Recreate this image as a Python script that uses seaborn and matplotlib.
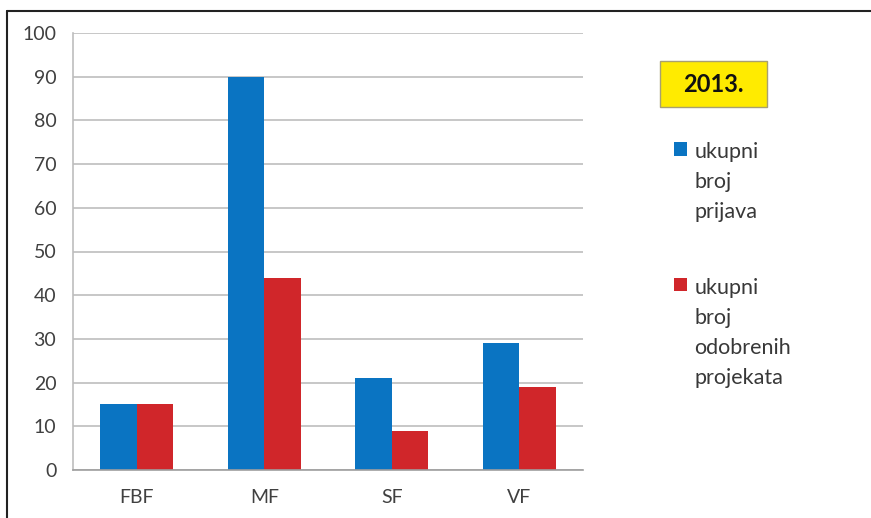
import numpy as np
import pandas as pd
import matplotlib
matplotlib.use("Agg")
import matplotlib.pyplot as plt
from matplotlib.lines import Line2D
from matplotlib.patches import Rectangle
import seaborn as sns

fakulteti = ["FBF", "MF", "SF", "VF"]
prijave = [15, 90, 21, 29]
odobreni = [15, 44, 9, 19]
serije = ["ukupni\nbroj\nprijava", "ukupni\nbroj\nodobrenih\nprojekata"]
boje = ["#0A74C2", "#D0262A"]
godina = "2013."

df = pd.DataFrame({
    "fakultet": fakulteti * 2,
    "vrijednost": prijave + odobreni,
    "serija": [serije[0]] * len(fakulteti) + [serije[1]] * len(fakulteti),
})

sns.set_style("white")
plt.rcParams["font.family"] = ["Lato", "DejaVu Sans"]

W, H = 871, 518
fig = plt.figure(figsize=(W / 100, H / 100), dpi=100)
ax = fig.add_axes([73 / W, 1 - 470 / H, (583 - 73) / W, (470 - 33) / H])

sns.barplot(data=df, x="fakultet", y="vrijednost", hue="serija",
            palette=boje, width=0.57, saturation=1, ax=ax, edgecolor="none")

ax.set_ylim(0, 100)
ax.set_yticks(np.arange(0, 101, 10))
ax.set_xlim(-0.5, 3.5)
ax.set_xlabel("")
ax.set_ylabel("")
ax.yaxis.grid(True, color="#BDBDBD", linewidth=1.2)
ax.set_axisbelow(True)
for s in ["top", "right"]:
    ax.spines[s].set_visible(False)
ax.spines["left"].set_color("#BDBDBD")
ax.spines["bottom"].set_color("#9E9E9E")
ax.spines["left"].set_linewidth(1.2)
ax.spines["bottom"].set_linewidth(1.2)

ax.tick_params(axis="y", length=5, color="#BDBDBD", labelsize=14, labelcolor="#404040", pad=7)
ax.tick_params(axis="x", which="major", length=0, labelsize=14, labelcolor="#404040", pad=14)
ax.set_xticks([-0.5, 0.5, 1.5, 2.5, 3.5], minor=True)
ax.tick_params(axis="x", which="minor", length=6, color="#9E9E9E", width=1.2)

sns.move_legend(ax, "upper left", bbox_to_anchor=(674 / W, 1 - 142 / H),
                bbox_transform=fig.transFigure, title=None, frameon=False,
                fontsize=15.5, handlelength=0.6, handleheight=0.6, handletextpad=0.35,
                labelspacing=2.6, labelcolor="#383838", borderaxespad=0, borderpad=0)
leg = ax.get_legend()
for t in leg.get_texts():
    t.set_linespacing(1.62)
# oznaka poravnata s prvim redom teksta
for kol in leg._legend_handle_box.get_children():
    for red in kol.get_children():
        red.align = "top"

fig.add_artist(Rectangle((660 / W, 1 - 107 / H), 107 / W, 46 / H, transform=fig.transFigure,
                         facecolor="#FFEB00", edgecolor="#A8A070", linewidth=1))
fig.text(713 / W, 1 - 85 / H, godina, ha="center", va="center", fontsize=17,
         fontweight="bold", color="#111111")

fig.add_artist(Line2D([7 / W, 7 / W], [0, 1 - 11 / H], transform=fig.transFigure,
                      color="#222222", linewidth=1.5))
fig.add_artist(Line2D([7 / W, 1], [1 - 11 / H, 1 - 11 / H], transform=fig.transFigure,
                      color="#222222", linewidth=1.5))

fig.savefig("out.png", dpi=100)
